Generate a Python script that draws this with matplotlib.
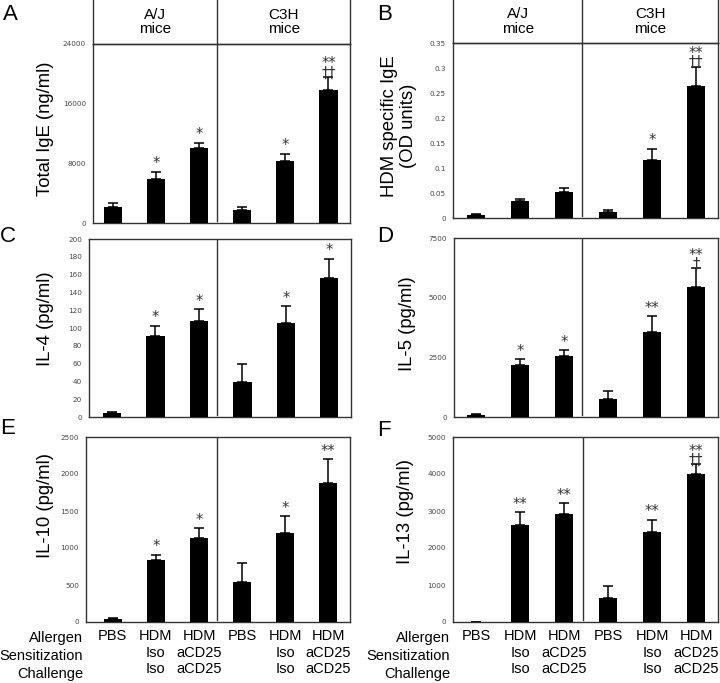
import numpy as np
import matplotlib
matplotlib.use("Agg")
import matplotlib.pyplot as plt

W, H = 720, 683
DPI = 100

# ---------------- data ----------------
groups = ["PBS", "HDM\nIso\nIso", "HDM\naCD25\naCD25", "PBS", "HDM\nIso\nIso", "HDM\naCD25\naCD25"]
row_labels = ["Allergen", "Sensitization", "Challenge"]
strains = ["A/J\nmice", "C3H\nmice"]

ige_total = [2150, 5900, 10050, 1740, 8310, 17830]
ige_total_err = [530, 940, 680, 400, 940, 1750]
ige_total_sig = ["", "*", "*", "", "*", "**\n††"]

ige_hdm = [0.006, 0.034, 0.053, 0.012, 0.117, 0.264]
ige_hdm_err = [0.002, 0.005, 0.008, 0.005, 0.022, 0.039]
ige_hdm_sig = ["", "", "", "", "*", "**\n††"]

il4 = [4, 90.6, 108, 39.5, 106, 156]
il4_err = [2, 12, 13, 19.5, 18.5, 21.5]
il4_sig = ["", "*", "*", "", "*", "*"]

il5 = [70, 2175, 2565, 771, 3547, 5439]
il5_err = [40, 235, 225, 336, 673, 785]
il5_sig = ["", "*", "*", "", "**", "**\n†"]

il10 = [40, 833, 1135, 536, 1203, 1883]
il10_err = [12, 77, 131, 266, 225, 315]
il10_sig = ["", "*", "*", "", "*", "**"]

il13 = [10, 2610, 2917, 650, 2429, 3991]
il13_err = [0, 352, 288, 334, 325, 271]
il13_sig = ["", "**", "**", "", "**", "**\n††"]

ticks_total = [0, 8000, 16000, 24000]
ticks_hdm = [0, 0.05, 0.1, 0.15, 0.2, 0.25, 0.3, 0.35]
ticks_il4 = [0, 20, 40, 60, 80, 100, 120, 140, 160, 180, 200]
ticks_il5 = [0, 2500, 5000, 7500]
ticks_il10 = [0, 500, 1000, 1500, 2000, 2500]
ticks_il13 = [0, 1000, 2000, 3000, 4000, 5000]

# ---------------- layout ----------------
fig = plt.figure(figsize=(W / DPI, H / DPI), dpi=DPI)

def rect(x0, y0, x1, y1):
    return [x0 / W, 1 - y1 / H, (x1 - x0) / W, (y1 - y0) / H]

def fx(x):
    return x / W

def fy(y):
    return 1 - y / H

SANS = ["Liberation Sans", "DejaVu Sans"]
SPINE = "#333333"
DIV_X = 2.42

panels = [
    dict(letter="A", box=(93, 44, 350, 223), v=ige_total, e=ige_total_err, s=ige_total_sig,
         t=ticks_total, lab="Total IgE (ng/ml)", lp=(45, 129), ltr=(3, 14), head=(0, 44), xl=False, xlo=-0.47),
    dict(letter="B", box=(453, 43, 718, 218), v=ige_hdm, e=ige_hdm_err, s=ige_hdm_sig,
         t=ticks_hdm, lab="HDM specific IgE\n(OD units)", lp=(399, 126), ltr=(377, 14), head=(0, 43), xl=False, xlo=-0.52),
    dict(letter="C", box=(89, 239, 351, 417), v=il4, e=il4_err, s=il4_sig,
         t=ticks_il4, lab="IL-4 (pg/ml)", lp=(45, 319), ltr=(0, 237), head=None, xl=False, xlo=-0.53),
    dict(letter="D", box=(454, 238, 718, 417), v=il5, e=il5_err, s=il5_sig,
         t=ticks_il5, lab="IL-5 (pg/ml)", lp=(407, 324), ltr=(377, 236), head=None, xl=False, xlo=-0.5),
    dict(letter="E", box=(86, 437, 350, 622), v=il10, e=il10_err, s=il10_sig,
         t=ticks_il10, lab="IL-10 (pg/ml)", lp=(45, 506), ltr=(0, 428), head=None, xl=True, xlo=-0.62),
    dict(letter="F", box=(453, 437, 718, 622), v=il13, e=il13_err, s=il13_sig,
         t=ticks_il13, lab="IL-13 (pg/ml)", lp=(405, 511), ltr=(377, 430), head=None, xl=True, xlo=-0.53),
]

x = np.arange(len(groups))

for p in panels:
    x0, y0, x1, y1 = p["box"]
    if p["head"] is not None:
        hy0, hy1 = p["head"]
        hx = fig.add_axes(rect(x0, hy0, x1, hy1))
        hx.patch.set_alpha(0)
        hx.set_xlim(p["xlo"], 5.5)
        hx.set_ylim(0, 1)
        hx.set_xticks([])
        hx.set_yticks([])
        hx.spines["top"].set_visible(False)
        for sp in ["left", "right", "bottom"]:
            hx.spines[sp].set_color(SPINE)
            hx.spines[sp].set_linewidth(1.0)
        hx.axvline(DIV_X, color=SPINE, lw=1.0)
        hx.text((p["xlo"] + DIV_X) / 2, 0.5, strains[0], ha="center", va="center",
                fontsize=11, family=SANS, linespacing=1.05)
        hx.text((DIV_X + 5.5) / 2, 0.5, strains[1], ha="center", va="center",
                fontsize=11, family=SANS, linespacing=1.05)

    ax = fig.add_axes(rect(x0, y0, x1, y1))
    ax.patch.set_alpha(0)
    vals = np.array(p["v"], dtype=float)
    errs = np.array(p["e"], dtype=float)
    ax.bar(x, vals, width=0.42, color="black", zorder=3)
    ax.errorbar(x, vals, yerr=[np.zeros_like(errs), errs], fmt="none", ecolor="black",
                elinewidth=1.1, capsize=3.5, capthick=1.1, zorder=2)
    ax.set_xlim(p["xlo"], 5.5)
    ax.set_ylim(p["t"][0], p["t"][-1])
    ax.set_yticks(p["t"])
    ax.set_yticklabels(["%g" % t for t in p["t"]], fontsize=5.2, color="#444444",
                       family="DejaVu Sans")
    ax.tick_params(axis="y", length=0, pad=5)
    ax.tick_params(axis="x", length=0)
    for sp in ax.spines.values():
        sp.set_color(SPINE)
        sp.set_linewidth(1.0)
    ax.axvline(DIV_X, ymin=0.01, ymax=1.0, color=SPINE, lw=1.0, zorder=1)

    for xi, v, er, s in zip(x, vals, errs, p["s"]):
        if not s:
            continue
        off = -2.5 if "\n" in s else 0.5
        ax.annotate(s, (xi, v + er), xytext=(0, off), textcoords="offset points",
                    ha="center", va="bottom", fontsize=10.5, color="#333333",
                    family=["DejaVu Sans"], linespacing=0.52, annotation_clip=False,
                    zorder=5)

    if p["xl"]:
        ax.set_xticks(x)
        ax.set_xticklabels(groups, fontsize=10.5, family=SANS, linespacing=1.25)
        ax.tick_params(axis="x", pad=5)
        for ri, rl in enumerate(row_labels):
            fig.text(fx(x0 - 3), fy(638 + ri * 18), rl, ha="right", va="center",
                     fontsize=10.5, family=SANS)
    else:
        ax.set_xticks([])

    fig.text(fx(p["lp"][0]), fy(p["lp"][1]), p["lab"], rotation=90, ha="center", va="center",
             fontsize=13.3, family=SANS, linespacing=1.1)
    fig.text(fx(p["ltr"][0]), fy(p["ltr"][1]), p["letter"], ha="left", va="center",
             fontsize=16, family=SANS)

fig.savefig("out.png", dpi=DPI)
